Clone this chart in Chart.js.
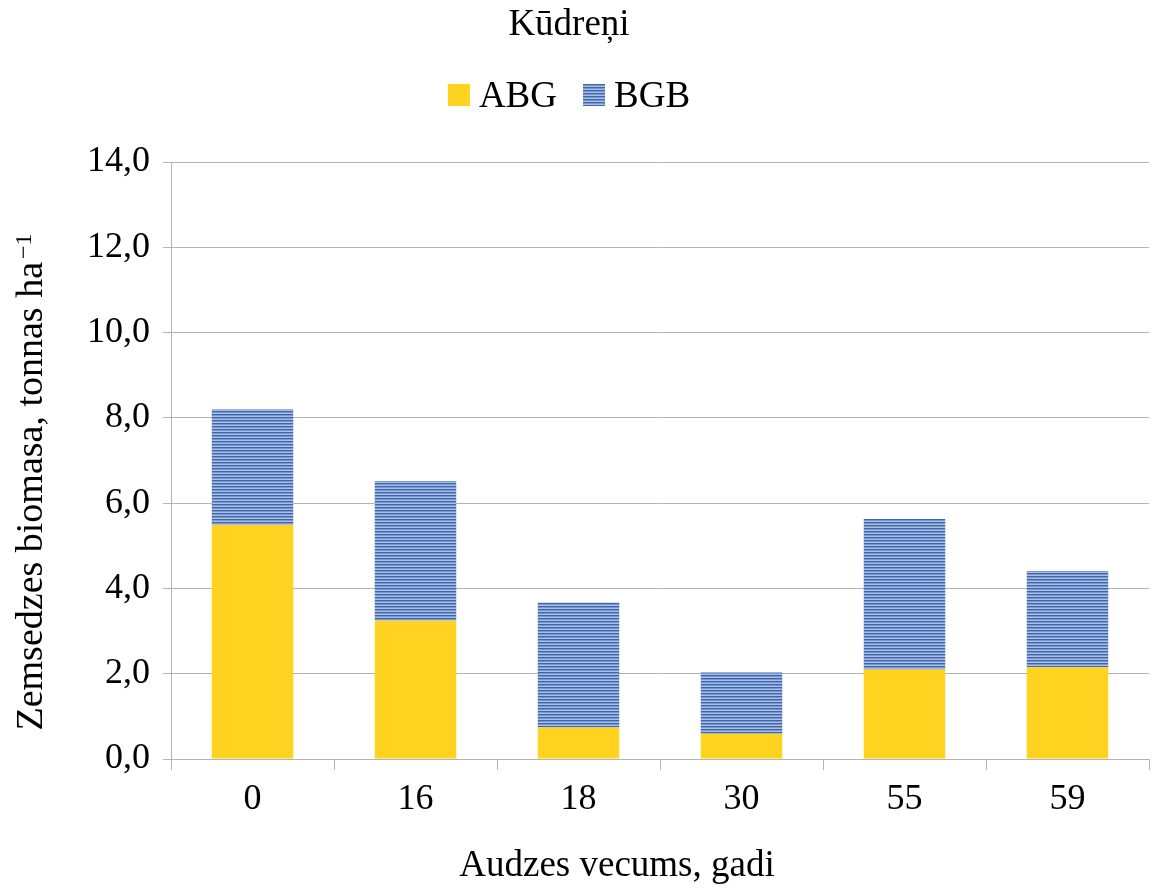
<!DOCTYPE html>
<html lang="lv">
<head>
<meta charset="utf-8">
<title>Kūdreņi</title>
<script src="https://cdn.jsdelivr.net/npm/chart.js@4/dist/chart.umd.min.js"></script>
<style>
  html, body { margin: 0; padding: 0; background: #ffffff; }
  #wrap { width: 1154px; height: 892px; }
</style>
</head>
<body>
<div id="wrap"><canvas id="chart" width="1154" height="892"></canvas></div>
<script>
// Stand age classes (years)
const categories = ['0', '16', '18', '30', '55', '59'];
// Above-ground ground-vegetation biomass, t/ha
const abgValues = [5.49, 3.24, 0.74, 0.59, 2.10, 2.15];
// Below-ground ground-vegetation biomass, t/ha
const bgbValues = [2.71, 3.28, 2.93, 1.44, 3.53, 2.26];
// Y axis tick values
const yTicks = [0, 2, 4, 6, 8, 10, 12, 14];

const chartTitle = 'Kūdreņi';
const seriesNames = ['ABG', 'BGB'];
const xTitle = 'Audzes vecums, gadi';
const yTitleMain = 'Zemsedzes biomasa, tonnas ha';
const yTitleSup = '−1';

const SERIF = '"Liberation Serif", "DejaVu Serif", serif';
const GRID = '#b3b3b3';
const YELLOW = '#ffd320';

// horizontal blue stripe fill for BGB
function makeStripes() {
  const c = document.createElement('canvas');
  c.width = 4; c.height = 3;
  const g = c.getContext('2d');
  g.fillStyle = '#a9bee2'; g.fillRect(0, 0, 4, 3);
  g.fillStyle = '#3e67ad'; g.fillRect(0, 0, 4, 1);
  g.fillStyle = '#7898cd'; g.fillRect(0, 1, 4, 1);
  return g.createPattern(c, 'repeat');
}
const stripes = makeStripes();
const fills = [YELLOW, stripes];

// title, legend and axis titles
const decor = {
  id: 'decor',
  afterDraw(chart) {
    const ctx = chart.ctx;
    ctx.save();
    ctx.fillStyle = '#000000';
    ctx.textBaseline = 'alphabetic';

    // title
    ctx.font = '37px ' + SERIF;
    ctx.textAlign = 'center';
    ctx.fillText(chartTitle, 569, 35);

    // legend
    ctx.font = '37px ' + SERIF;
    ctx.textAlign = 'left';
    const box = 22, gapText = 9, gapItem = 26;
    const widths = seriesNames.map(n => ctx.measureText(n).width);
    let total = 0;
    widths.forEach((w, i) => { total += box + gapText + w + (i < widths.length - 1 ? gapItem : 0); });
    let x = 569 - total / 2;
    seriesNames.forEach((n, i) => {
      ctx.fillStyle = fills[i];
      ctx.fillRect(x, 84, box, box);
      ctx.fillStyle = '#000000';
      ctx.fillText(n, x + box + gapText, 107);
      x += box + gapText + widths[i] + gapItem;
    });

    // x axis title
    ctx.font = '37px ' + SERIF;
    ctx.textAlign = 'center';
    ctx.fillText(xTitle, 617, 876);

    // y axis title (rotated, with superscript)
    ctx.translate(42, 482);
    ctx.rotate(-Math.PI / 2);
    ctx.font = '38px ' + SERIF;
    const wMain = ctx.measureText(yTitleMain).width;
    ctx.font = '24px ' + SERIF;
    const wSup = ctx.measureText(yTitleSup).width;
    const gap = 3;
    const start = -(wMain + gap + wSup) / 2;
    ctx.textAlign = 'left';
    ctx.font = '38px ' + SERIF;
    ctx.fillText(yTitleMain, start, 0);
    ctx.font = '24px ' + SERIF;
    ctx.fillText(yTitleSup, start + wMain + gap, -11);
    ctx.restore();
  }
};

new Chart(document.getElementById('chart'), {
  type: 'bar',
  data: {
    labels: categories,
    datasets: [
      { label: seriesNames[0], data: abgValues, backgroundColor: fills[0], borderWidth: 0,
        barPercentage: 0.5, categoryPercentage: 1.0 },
      { label: seriesNames[1], data: bgbValues, backgroundColor: fills[1], borderWidth: 0,
        barPercentage: 0.5, categoryPercentage: 1.0 }
    ]
  },
  options: {
    responsive: false,
    animation: false,
    devicePixelRatio: 1,
    layout: { padding: { top: 162, right: 5, bottom: 0, left: 0 } },
    plugins: {
      legend: { display: false },
      title: { display: false },
      tooltip: { enabled: false }
    },
    scales: {
      x: {
        stacked: true,
        offset: true,
        afterFit(scale) { scale.height = 133; },
        grid: { display: true, drawOnChartArea: false, drawTicks: true, tickLength: 11,
                color: GRID, lineWidth: 1, offset: true },
        border: { display: true, color: GRID, width: 1 },
        ticks: { color: '#000000', font: { family: SERIF, size: 36 }, padding: 8,
                 maxRotation: 0, autoSkip: false }
      },
      y: {
        stacked: true,
        min: 0,
        max: 14,
        afterFit(scale) { scale.width = 171; },
        afterBuildTicks(scale) { scale.ticks = yTicks.map(v => ({ value: v })); },
        grid: { color: GRID, lineWidth: 1, tickLength: 8, drawTicks: true },
        border: { display: true, color: GRID, width: 1 },
        ticks: {
          color: '#000000',
          font: { family: SERIF, size: 36 },
          padding: 13,
          callback: v => v.toFixed(1).replace('.', ',')
        }
      }
    }
  },
  plugins: [decor]
});
</script>
</body>
</html>
